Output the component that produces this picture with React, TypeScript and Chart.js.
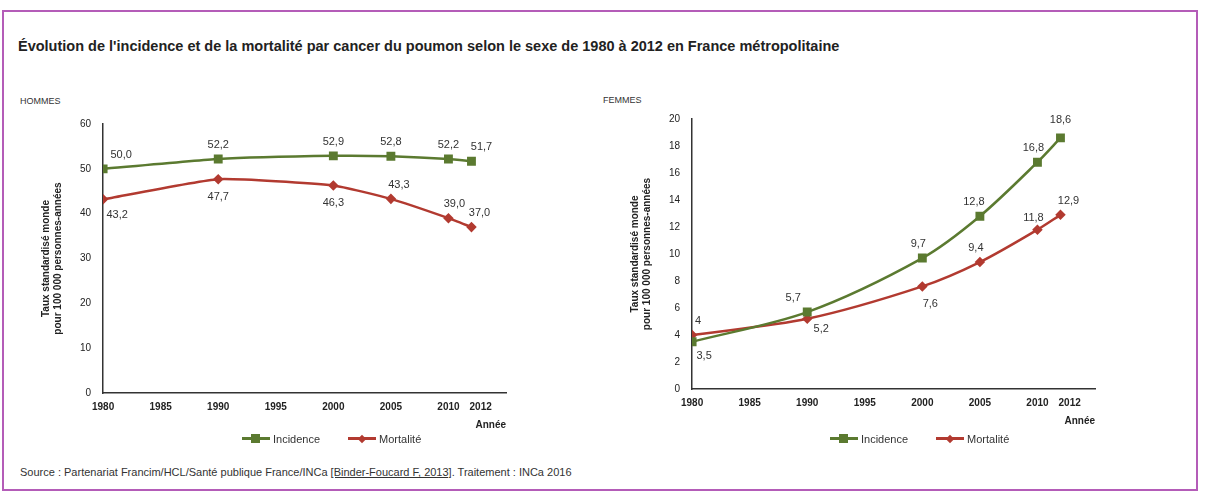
import { Chart, registerables } from 'chart.js'
import { useEffect, useRef } from 'react'

Chart.register(...registerables)

const years = [1980, 1990, 2000, 2005, 2010, 2012]
const tickYears = [1980, 1985, 1990, 1995, 2000, 2005, 2010, 2012]
const hommesIncidence = [50.0, 52.2, 52.9, 52.8, 52.2, 51.7]
const hommesMortalite = [43.2, 47.7, 46.3, 43.3, 39.0, 37.0]
const femmesIncidence = [3.5, 5.7, 9.7, 12.8, 16.8, 18.6]
const femmesMortalite = [4, 5.2, 7.6, 9.4, 11.8, 12.9]

const GREEN = '#5b7a30'
const RED = '#b23a30'
const FONT = '"Liberation Sans", Arial, sans-serif'

// label placement per point: [dx, dy]
const placeHI = [[18, -14], [0, -14], [0, -14], [0, -14], [0, -14], [10, -14]]
const placeHM = [[14, 16], [0, 18], [0, 18], [8, -14], [6, -14], [8, -14]]
const placeFI = [[12, 14], [-14, -14], [-4, -14], [-6, -14], [-4, -14], [0, -18]]
const placeFM = [[6, -14], [14, 10], [8, 18], [-4, -14], [-4, -12], [8, -14]]

const fmt = (v: number) => String(v % 1 === 0 && v > 20 ? v.toFixed(1) : v).replace('.', ',')

const labelsPlugin = {
  id: 'pointLabels',
  afterDatasetsDraw(chart: any) {
    const ctx = chart.ctx
    const places = chart.options.plugins.pointLabels.places
    ctx.save()
    ctx.font = `11px ${FONT}`
    ctx.fillStyle = '#333'
    ctx.textAlign = 'center'
    ctx.textBaseline = 'middle'
    chart.data.datasets.forEach((ds: any, i: number) => {
      chart.getDatasetMeta(i).data.forEach((p: any, j: number) => {
        const [dx, dy] = places[i][j]
        ctx.fillText(fmt(ds.data[j].y), p.x + dx, p.y + dy)
      })
    })
    ctx.restore()
  }
}

function Panel({ inc, mort, max, step, places, left, top, height, tension }: any) {
  const ref = useRef<HTMLCanvasElement | null>(null)
  useEffect(() => {
    if (!ref.current) return
    const chart = new Chart(ref.current, {
      type: 'line',
      data: {
        datasets: [
          {
            label: 'Incidence',
            data: years.map((x, i) => ({ x, y: inc[i] })),
            borderColor: GREEN,
            backgroundColor: GREEN,
            pointStyle: 'rect',
            pointRadius: 4.5,
            borderWidth: 2.5,
            tension
          },
          {
            label: 'Mortalité',
            data: years.map((x, i) => ({ x, y: mort[i] })),
            borderColor: RED,
            backgroundColor: RED,
            pointStyle: 'rectRot',
            pointRadius: 3.5,
            borderWidth: 2.5,
            tension
          }
        ]
      },
      options: {
        animation: false,
        responsive: false,
        layout: { padding: { top: 10, right: 10 } },
        scales: {
          x: {
            type: 'linear',
            min: 1980,
            max: 2015,
            // the 2012 tick label sits a little right of its year, as in the source
            afterBuildTicks: (s: any) => {
              s.ticks = tickYears.map(v => ({ value: v === 2012 ? 2012.8 : v }))
            },
            grid: { display: false, drawTicks: false },
            border: { color: '#333', width: 1.5 },
            ticks: { color: '#222', font: { family: FONT, size: 10, weight: 'bold' }, padding: 8, callback: (v: any) => String(Math.floor(v)) },
            title: { display: true, text: 'Année', align: 'end', color: '#222', font: { family: FONT, size: 10, weight: 'bold' }, padding: { top: -2 } }
          },
          y: {
            min: 0,
            max,
            ticks: { stepSize: step, color: '#222', font: { family: FONT, size: 10 }, padding: 12 },
            grid: { display: false, drawTicks: false },
            border: { color: '#333', width: 1.5 },
            title: {
              display: true,
              text: ['Taux standardisé monde', 'pour 100 000 personnes-années'],
              color: '#222',
              font: { family: FONT, size: 10, weight: 'bold' },
              padding: 4
            }
          }
        },
        plugins: {
          legend: { display: false },
          tooltip: { enabled: false },
          pointLabels: { places }
        } as any
      },
      plugins: [labelsPlugin]
    })
    return () => chart.destroy()
  }, [])
  return <canvas ref={ref} width={480} height={height} style={{ position: 'absolute', left, top }} />
}

function Legend({ left }: { left: number }) {
  const item = (color: string, label: string, shape: any) => (
    <span style={{ display: 'inline-flex', alignItems: 'center', marginRight: 28 }}>
      <span style={{ position: 'relative', width: 28, height: 3, background: color, marginRight: 3 }}>
        <span style={{ position: 'absolute', left: 9, top: -3, width: 9, height: 9, background: color, ...shape }} />
      </span>
      {label}
    </span>
  )
  return (
    <div style={{ position: 'absolute', left, top: 430, fontFamily: FONT, fontSize: 11, color: '#333' }}>
      {item(GREEN, 'Incidence', {})}
      {item(RED, 'Mortalité', { width: 6, height: 6, top: -1.5, left: 11, transform: 'rotate(45deg)' })}
    </div>
  )
}

export default function App() {
  return (
    <div style={{ position: 'fixed', left: 0, top: 0, width: 1212, height: 491, background: '#fff', fontFamily: FONT, overflow: 'hidden' }}>
      <div style={{ position: 'absolute', left: 2, top: 10, width: 1192, height: 477, border: '2px solid #b45cb8' }} />
      <div style={{ position: 'absolute', left: 18, top: 38, fontSize: 14.5, fontWeight: 'bold', color: '#222' }}>
        Évolution de l'incidence et de la mortalité par cancer du poumon selon le sexe de 1980 à 2012 en France métropolitaine
      </div>
      <div style={{ position: 'absolute', left: 20, top: 96, fontSize: 9, color: '#333' }}>HOMMES</div>
      <div style={{ position: 'absolute', left: 603, top: 95, fontSize: 9, color: '#333' }}>FEMMES</div>
      <Panel inc={hommesIncidence} mort={hommesMortalite} max={60} step={10} places={[placeHI, placeHM]} left={36} top={106} height={329} tension={0.15} />
      <Panel inc={femmesIncidence} mort={femmesMortalite} max={20} step={2} places={[placeFI, placeFM]} left={625} top={101} height={330} tension={0.3} />
      <Legend left={242} />
      <Legend left={830} />
      <div style={{ position: 'absolute', left: 20, top: 466, fontSize: 11, color: '#333' }}>
        Source : Partenariat Francim/HCL/Santé publique France/INCa <u>[Binder-Foucard F, 2013]</u>. Traitement : INCa 2016
      </div>
    </div>
  )
}
